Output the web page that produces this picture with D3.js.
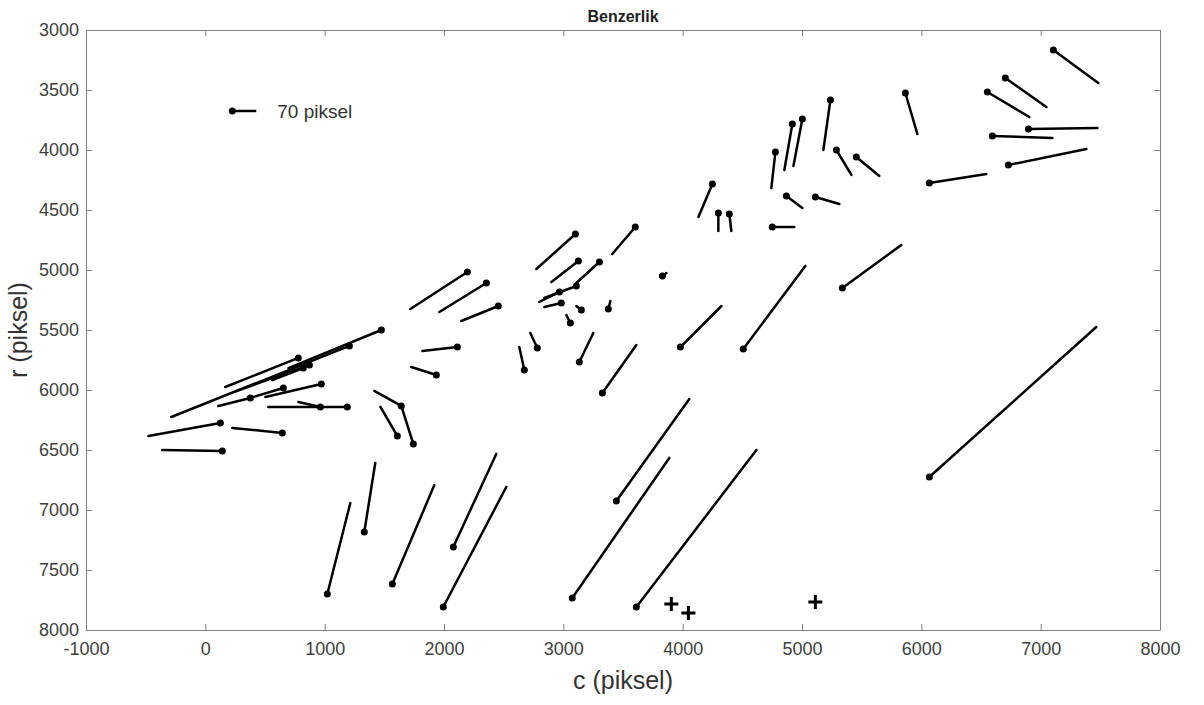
<!DOCTYPE html>
<html lang="tr">
<head>
<meta charset="UTF-8">
<title>Benzerlik</title>
<script src="https://d3js.org/d3.v7.min.js"></script>
<style>
  body { margin: 0; background: #fff; }
  svg { font-family: "Liberation Sans", Arial, sans-serif; }
  .axis path, .axis line { stroke: #808080; }
  .axis text { fill: #404040; font-size: 18px; }
</style>
</head>
<body>
<div id="chart"></div>
<script>
// vector start points (c = column, r = row), in piksel
var c = [7106, 6704, 6553, 5866, 6897, 6595, 6729, 6067,
         5238, 5003, 4919, 4777, 5288, 5455, 4869, 5112, 4249, 4299, 4391, 4751, 3830, 5338,
         3101, 3603, 3126, 3302, 3109, 2967, 2983, 3151, 3059, 3377,
         2196, 2355, 2455, 2112, 1936, 2782, 2673, 3134, 3327, 3981, 4508,
         1475, 1207, 779, 872, 821, 972, 654, 377, 126, 645, 142, 1190, 964, 1642, 1609, 1743,
         1022, 1332, 1567, 2078, 1994, 3444, 3075, 3612, 6067];
var r = [3167, 3400, 3517, 3525, 3825, 3883, 4125, 4275,
         3583, 3742, 3783, 4017, 4000, 4058, 4383, 4392, 4283, 4525, 4533, 4642, 5050, 5150,
         4700, 4642, 4925, 4933, 5133, 5183, 5275, 5333, 5442, 5325,
         5017, 5108, 5300, 5642, 5875, 5650, 5833, 5767, 6025, 5642, 5658,
         5500, 5633, 5733, 5792, 5817, 5950, 5983, 6067, 6275, 6358, 6508, 6142, 6142, 6133, 6383, 6450,
         7700, 7183, 7617, 7308, 7808, 6925, 7733, 7808, 6725];
// drawn displacement of each vector (axis units)
var dc = [377, 344, 352, 101, 578, 503, 654, 478,
          -59, -75, -67, -34, 126, 193, 134, 201, -117, 0, 17, 184, 34, 494,
          -327, -193, -226, -193, -268, -168, -142, -42, -34, 17,
          -478, -394, -310, -293, -210, -59, -42, 117, 285, 344, 520,
          -779, -1492, -612, -612, -260, -469, -277, -268, -603, -419, -503, -662, -184, -226, -142, -101,
          193, 92, 352, 360, 528, 612, 813, 1006, 1399];
var dr = [275, 242, 208, 342, -8, 17, -133, -75,
          417, 392, 383, 300, 208, 158, 100, 58, 275, 150, 142, 0, -25, -358,
          292, 225, 175, 175, 100, 83, 33, -33, -67, -67,
          308, 242, 125, 33, -67, -125, -192, -242, -400, -342, -692,
          317, 592, 242, 217, 100, 108, 83, 67, 108, -42, -8, 0, -42, -125, -242, -317,
          -758, -575, -825, -775, -1000, -850, -1167, -1308, -1250];

// plus markers
var plusC = [3905, 4048, 5112];
var plusR = [7783, 7858, 7767];

// reference vector
var keyC = 226, keyR = 3675, keyLen = 201, keyLabel = "70 piksel";

var xTicks = d3.range(-1000, 8001, 1000);
var yTicks = d3.range(3000, 8001, 500);

var W = 1204, H = 705;
var mLeft = 86, mRight = 1160, mTop = 30, mBottom = 630;

var svg = d3.select("#chart").append("svg")
    .attr("width", W)
    .attr("height", H);

var x = d3.scaleLinear().domain([-1000, 8000]).range([mLeft, mRight]);
var y = d3.scaleLinear().domain([3000, 8000]).range([mTop, mBottom]);

var fmt = function(d) { return String(d); };

// axes with inward ticks (box style)
svg.append("g").attr("class", "axis")
   .attr("transform", "translate(0," + mBottom + ")")
   .call(d3.axisBottom(x).tickValues(xTicks).tickSize(-6).tickSizeOuter(0).tickPadding(12).tickFormat(fmt));
svg.append("g").attr("class", "axis")
   .attr("transform", "translate(0," + mTop + ")")
   .call(d3.axisTop(x).tickValues(xTicks).tickSize(-6).tickSizeOuter(0).tickFormat(""));
svg.append("g").attr("class", "axis")
   .attr("transform", "translate(" + mLeft + ",0)")
   .call(d3.axisLeft(y).tickValues(yTicks).tickSize(-6).tickSizeOuter(0).tickPadding(7).tickFormat(fmt));
svg.append("g").attr("class", "axis")
   .attr("transform", "translate(" + mRight + ",0)")
   .call(d3.axisRight(y).tickValues(yTicks).tickSize(-6).tickSizeOuter(0).tickFormat(""));

// vectors
var idx = d3.range(c.length);
svg.append("g").selectAll("line")
   .data(idx).enter().append("line")
   .attr("x1", function(i) { return x(c[i]); })
   .attr("y1", function(i) { return y(r[i]); })
   .attr("x2", function(i) { return x(c[i] + dc[i]); })
   .attr("y2", function(i) { return y(r[i] + dr[i]); })
   .attr("stroke", "#000")
   .attr("stroke-width", 2.5)
   .attr("stroke-linecap", "round");

svg.append("g").selectAll("circle")
   .data(idx).enter().append("circle")
   .attr("cx", function(i) { return x(c[i]); })
   .attr("cy", function(i) { return y(r[i]); })
   .attr("r", 3.5)
   .attr("fill", "#000");

// plus markers
svg.append("g").selectAll("path")
   .data(plusC).enter().append("path")
   .attr("d", function(pc, i) {
       var px = x(pc), py = y(plusR[i]);
       return "M" + (px - 7) + "," + py + "H" + (px + 7) + "M" + px + "," + (py - 7) + "V" + (py + 7);
   })
   .attr("stroke", "#000")
   .attr("stroke-width", 3);

// key
svg.append("line")
   .attr("x1", x(keyC)).attr("y1", y(keyR))
   .attr("x2", x(keyC + keyLen)).attr("y2", y(keyR))
   .attr("stroke", "#000").attr("stroke-width", 2.5);
svg.append("circle")
   .attr("cx", x(keyC)).attr("cy", y(keyR)).attr("r", 3.5).attr("fill", "#000");
svg.append("text")
   .attr("x", x(keyC + keyLen) + 21)
   .attr("y", y(keyR) + 7)
   .style("font-size", "19px")
   .attr("fill", "#333")
   .text(keyLabel);

// title and axis labels
svg.append("text")
   .attr("x", (mLeft + mRight) / 2)
   .attr("y", 22)
   .attr("text-anchor", "middle")
   .style("font-size", "16px")
   .style("font-weight", "bold")
   .attr("fill", "#222")
   .text("Benzerlik");

svg.append("text")
   .attr("x", (mLeft + mRight) / 2)
   .attr("y", 689)
   .attr("text-anchor", "middle")
   .style("font-size", "25px")
   .attr("fill", "#333")
   .text("c (piksel)");

svg.append("text")
   .attr("transform", "translate(27," + (mTop + mBottom) / 2 + ") rotate(-90)")
   .attr("text-anchor", "middle")
   .style("font-size", "25px")
   .attr("fill", "#333")
   .text("r (piksel)");
</script>
</body>
</html>
